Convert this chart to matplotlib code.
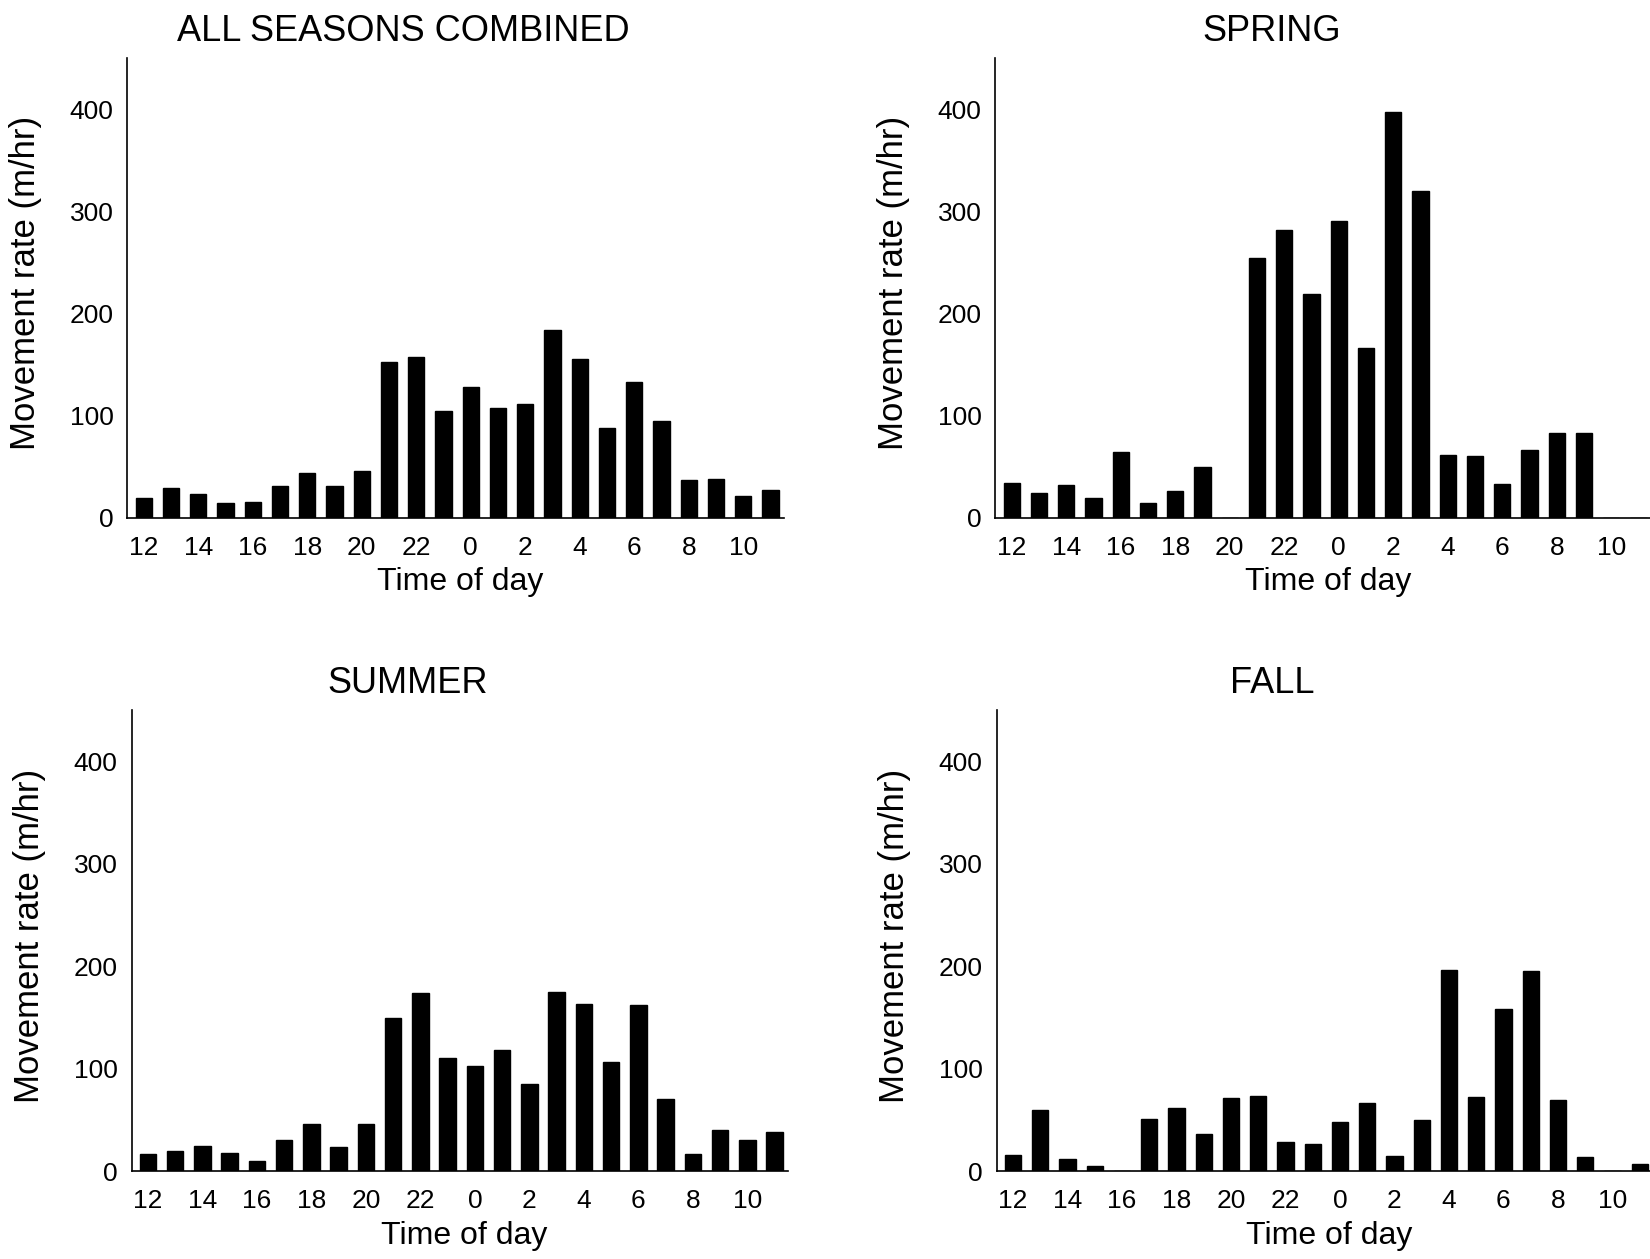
import numpy as np
import matplotlib
matplotlib.use('Agg')
import matplotlib.pyplot as plt

plt.rcParams['font.family'] = ['Liberation Sans', 'DejaVu Sans']

# hours of the day, starting at noon
hours = [12, 13, 14, 15, 16, 17, 18, 19, 20, 21, 22, 23,
         0, 1, 2, 3, 4, 5, 6, 7, 8, 9, 10, 11]
tick_hours = [12, 14, 16, 18, 20, 22, 0, 2, 4, 6, 8, 10]

all_seasons = [19, 29, 23, 14, 15, 31, 44, 31, 46, 152, 157, 104,
               128, 107, 111, 184, 155, 88, 133, 95, 37, 38, 21, 27]
spring = [34, 24, 32, 19, 64, 14, 26, 50, 0, 254, 282, 219,
          290, 166, 397, 320, 61, 60, 33, 66, 83, 83, 0, 0]
summer = [17, 20, 25, 18, 10, 30, 46, 24, 46, 150, 174, 110,
          103, 118, 85, 175, 163, 107, 162, 70, 17, 40, 30, 38]
fall = [16, 60, 12, 5, 0, 51, 62, 36, 71, 73, 28, 26,
        48, 67, 15, 50, 196, 72, 158, 195, 69, 14, 0, 7]

panels = [
    ('ALL SEASONS COMBINED', all_seasons, [0.0772, 0.5888, 0.398, 0.3652]),
    ('SPRING', spring, [0.6033, 0.5888, 0.398, 0.3652]),
    ('SUMMER', summer, [0.0797, 0.0698, 0.398, 0.3660]),
    ('FALL', fall, [0.6040, 0.0698, 0.398, 0.3660]),
]

fig = plt.figure(figsize=(16.5, 12.59), dpi=100)

x = np.arange(len(hours))
tick_pos = [hours.index(h) for h in tick_hours]

for title, vals, rect in panels:
    ax = fig.add_axes(rect)
    ax.bar(x, vals, width=0.6, color='black', edgecolor='black')
    ax.set_xlim(-0.6, 23.5)
    ax.set_ylim(0, 450)
    ax.set_yticks([0, 100, 200, 300, 400])
    ax.set_xticks(tick_pos)
    ax.set_xticklabels([str(h) for h in tick_hours])
    ax.tick_params(length=0, labelsize=19, pad=10)
    ax.tick_params(axis='x', pad=13)
    for s in ('top', 'right'):
        ax.spines[s].set_visible(False)
    for s in ('left', 'bottom'):
        ax.spines[s].set_linewidth(1.2)
    ax.set_ylabel('Movement rate (m/hr)', fontsize=25)
    ax.yaxis.set_label_coords(-0.13, 0.51)
    ax.set_xlabel('Time of day', fontsize=23)
    ax.xaxis.set_label_coords(0.507, -0.108)
    ax.text(0.42, 1.058, title, transform=ax.transAxes, ha='center',
            va='center', fontsize=26)

plt.savefig('out.png', dpi=100, facecolor='white')
plt.close()
